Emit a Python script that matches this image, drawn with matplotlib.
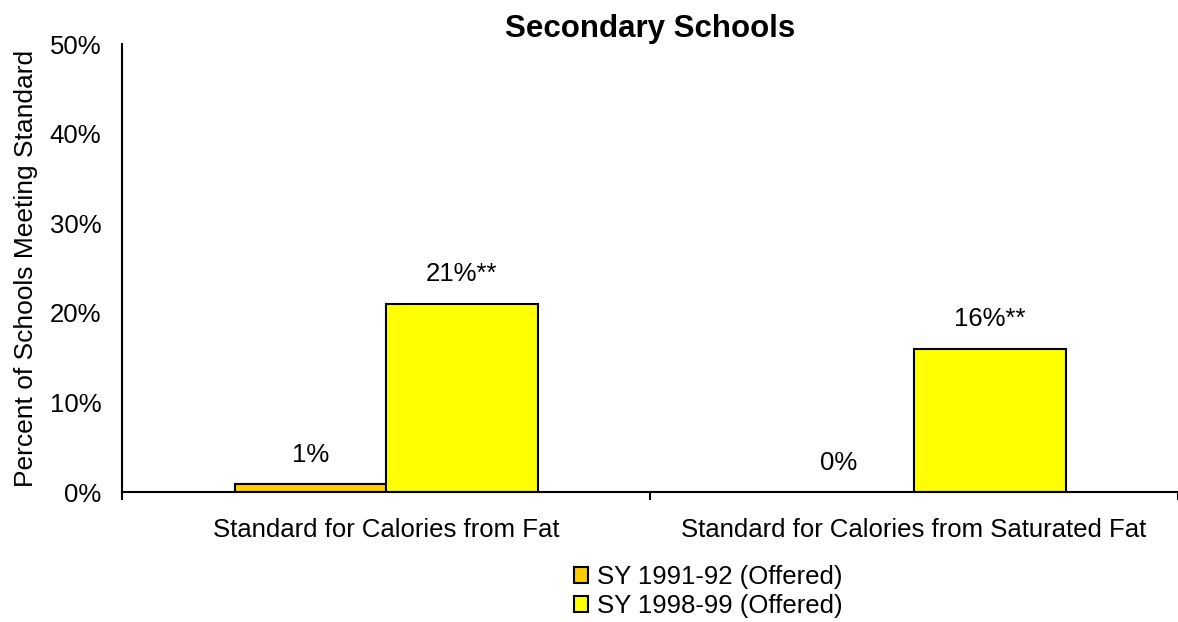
import matplotlib
matplotlib.use("Agg")
import matplotlib.pyplot as plt
import numpy as np
from matplotlib.patches import Patch

categories = ["Standard for Calories from Fat", "Standard for Calories from Saturated Fat"]
series_names = ["SY 1991-92 (Offered)", "SY 1998-99 (Offered)"]
values_1991 = [0.9, 0.0]
values_1998 = [21.0, 16.0]
labels_1991 = ["1%", "0%"]
labels_1998 = ["21%**", "16%**"]
colors = ["#FFCC00", "#FFFF00"]
yticks = [0, 10, 20, 30, 40, 50]
ytick_labels = ["0%", "10%", "20%", "30%", "40%", "50%"]

plt.rcParams['font.family'] = ['Liberation Sans', 'DejaVu Sans']
FS = 18.5

fig = plt.figure(figsize=(11.78, 6.22), dpi=100)
ax = fig.add_axes([0.1036, 0.209, 0.8964, 0.720])

x = np.arange(len(categories))
w = 0.287
ax.bar(x - w/2, values_1991, w, color=colors[0], edgecolor='black', linewidth=1.5)
ax.bar(x + w/2, values_1998, w, color=colors[1], edgecolor='black', linewidth=1.5)

for xi, v, lab in zip(x - w/2, values_1991, labels_1991):
    ax.text(xi, v + 3.2, lab, ha='center', va='center', fontsize=FS)
for xi, v, lab in zip(x + w/2, values_1998, labels_1998):
    ax.text(xi, v + 3.3, lab, ha='center', va='center', fontsize=FS)

ax.set_xlim(-0.5, 1.5)
ax.set_ylim(0, 50)
ax.set_yticks(yticks)
ax.set_yticklabels(ytick_labels, fontsize=FS)
ax.tick_params(axis='y', length=0, pad=15)
ax.set_xticks(x)
ax.set_xticklabels(categories, fontsize=FS)
ax.tick_params(axis='x', which='major', length=0, pad=19)
ax.set_xticks([-0.5, 0.5, 1.5], minor=True)
ax.tick_params(axis='x', which='minor', length=6, width=1.5, direction='out')

for s in ['top', 'right']:
    ax.spines[s].set_visible(False)
for s in ['left', 'bottom']:
    ax.spines[s].set_linewidth(1.5)

ax.set_ylabel("Percent of Schools Meeting Standard", fontsize=19, labelpad=8)
ax.set_title("Secondary Schools", fontsize=22.5, fontweight='bold', pad=2)

handles = [Patch(facecolor=c, edgecolor='black', linewidth=1.5) for c in colors]
fig.legend(handles, series_names, loc='upper left', bbox_to_anchor=(574/1178, 1 - 565/622),
           frameon=False, fontsize=FS, handlelength=0.55, handleheight=0.55,
           handletextpad=0.35, labelspacing=0.2, borderpad=0, borderaxespad=0)

fig.savefig("out.png", dpi=100)
